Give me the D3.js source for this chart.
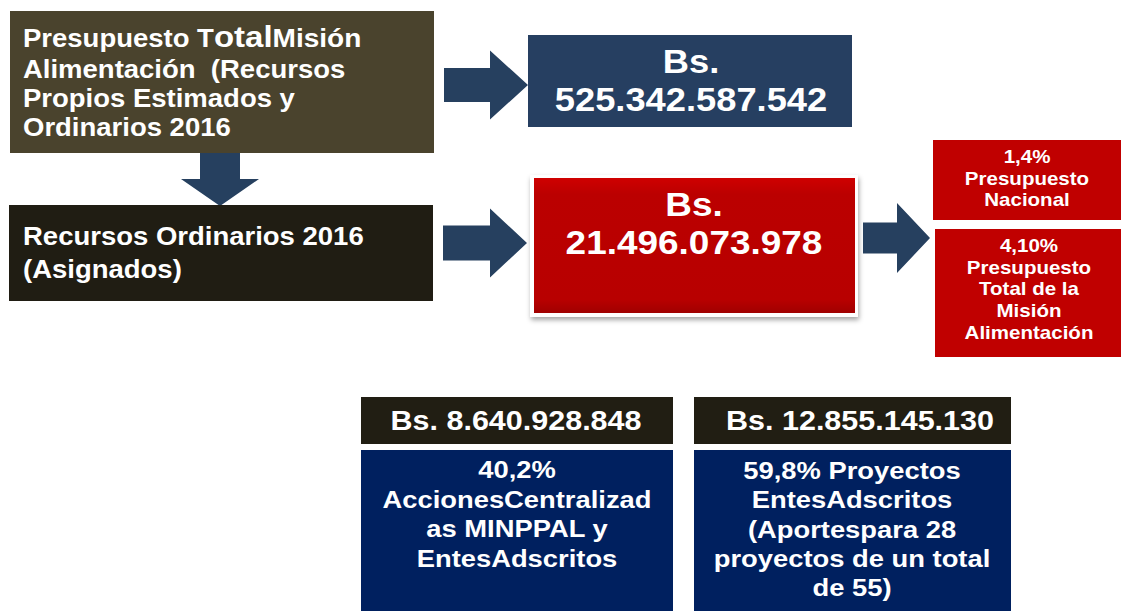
<!DOCTYPE html>
<html><head><meta charset="utf-8">
<script src="https://cdn.jsdelivr.net/npm/d3@7"></script>
<style>html,body{margin:0;padding:0;background:#fff;}svg{display:block;font-family:"Liberation Sans",Arial,sans-serif;font-weight:bold;}text{white-space:pre;}</style>
</head><body><svg id="c" width="1121" height="611"></svg>
<script>
// ---- data ----
const titleLine1 = [["Presupuesto T", 25], ["otal", 30], ["Misión", 25.5]];
const titleLines = ["Alimentación  (Recursos", "Propios Estimados y", "Ordinarios 2016"];
const ordinaryLines = ["Recursos Ordinarios 2016", "(Asignados)"];
const totalAmount = ["Bs.", "525.342.587.542"];
const ordinaryAmount = ["Bs.", "21.496.073.978"];
const shareNational = ["1,4%", "Presupuesto", "Nacional"];
const shareMission = ["4,10%", "Presupuesto", "Total de la", "Misión", "Alimentación"];
const splitAmounts = ["Bs. 8.640.928.848", "Bs. 12.855.145.130"];
const splitTexts = [
  ["40,2%", "AccionesCentralizad", "as MINPPAL y", "EntesAdscritos"],
  ["59,8% Proyectos", "EntesAdscritos", "(Aportespara 28", "proyectos de un total", "de 55)"]
];

// ---- drawing ----
const svg = d3.select("#c");
const defs = svg.append("defs");
const f = defs.append("filter").attr("id", "sh").attr("x", "-10%").attr("y", "-10%").attr("width", "120%").attr("height", "130%");
f.append("feDropShadow").attr("dx", 1).attr("dy", 3).attr("stdDeviation", 2.5).attr("flood-color", "#000").attr("flood-opacity", 0.35);
const gr = defs.append("linearGradient").attr("id", "rg").attr("x1", 0).attr("y1", 0).attr("x2", 0).attr("y2", 1);
gr.append("stop").attr("offset", "0").attr("stop-color", "#cf0000");
gr.append("stop").attr("offset", "0.12").attr("stop-color", "#bb0000");
gr.append("stop").attr("offset", "0.9").attr("stop-color", "#b80000");
gr.append("stop").attr("offset", "1").attr("stop-color", "#a00000");

function rect(x, y, w, h, fill) {
  return svg.append("rect").attr("x", x).attr("y", y).attr("width", w).attr("height", h).attr("fill", fill);
}
function lines(arr, x, y0, dy, size, anchor, sx) {
  arr.forEach((t, i) => {
    svg.append("text")
      .attr("xml:space", "preserve")
      .attr("transform", `translate(${x},${y0 + i * dy}) scale(${sx},1)`)
      .attr("text-anchor", anchor).attr("font-size", size).attr("fill", "#fff").text(t);
  });
}
const arrowColor = "#26405f";
function arrowRight(x0, x1, xh, cy, shaftH, headH) {
  const p = [[x0, cy - shaftH / 2], [xh, cy - shaftH / 2], [xh, cy - headH / 2], [x1, cy], [xh, cy + headH / 2], [xh, cy + shaftH / 2], [x0, cy + shaftH / 2]];
  svg.append("path").attr("d", d3.line()(p) + "Z").attr("fill", arrowColor);
}
function arrowDown(cx, y0, y1, yh, shaftW, headW) {
  const p = [[cx - shaftW / 2, y0], [cx + shaftW / 2, y0], [cx + shaftW / 2, yh], [cx + headW / 2, yh], [cx, y1], [cx - headW / 2, yh], [cx - shaftW / 2, yh]];
  svg.append("path").attr("d", d3.line()(p) + "Z").attr("fill", arrowColor);
}

// top-left box
arrowDown(220, 150, 206, 179, 40, 78);
rect(10, 11, 424, 142, "#4a432d");
const t1 = svg.append("text").attr("transform", "translate(23,47) scale(1.1,1)").attr("fill", "#fff");
titleLine1.forEach(([s, fs]) => t1.append("tspan").attr("font-size", fs).text(s));
lines(titleLines, 23, 78, 29, 25, "start", 1.1);

// arrow + total box
arrowRight(444, 528, 490, 85, 34, 69);
rect(528, 35, 324, 92, "#263f61");
lines(totalAmount, 691, 73, 38, 33, "middle", 1.1);

// ordinary box
rect(9, 205, 424, 96, "#201d13");
lines(ordinaryLines, 23, 245, 33, 25, "start", 1.1);

// arrow + red box
arrowRight(443, 527, 490, 243, 35, 69);
svg.append("rect").attr("x", 530).attr("y", 175).attr("width", 328).attr("height", 142).attr("fill", "#fff").attr("filter", "url(#sh)");
rect(534, 178, 321, 135, "url(#rg)");
lines(ordinaryAmount, 694, 216, 38, 33, "middle", 1.12);

// arrow + share boxes
arrowRight(863, 930, 897, 238, 31, 70);
rect(933, 140, 188, 80, "#c00000");
lines(shareNational, 1027, 163, 21.5, 18, "middle", 1.14);
rect(935, 229, 186, 128, "#c00000");
lines(shareMission, 1029, 252, 21.7, 18, "middle", 1.14);

// bottom boxes
const bx = [[361, 312], [694, 317]];
bx.forEach(([x, w], i) => {
  rect(x, 397, w, 47, "#211e13");
  rect(x, 450, w, 161, "#00205f");
});
lines([splitAmounts[0]], 516, 430, 0, 27, "middle", 1.13);
lines([splitAmounts[1]], 860, 430, 0, 27, "middle", 1.13);
lines(splitTexts[0], 517, 478, 29.5, 24, "middle", 1.14);
lines(splitTexts[1], 852, 479, 29.3, 24, "middle", 1.14);
</script></body></html>
